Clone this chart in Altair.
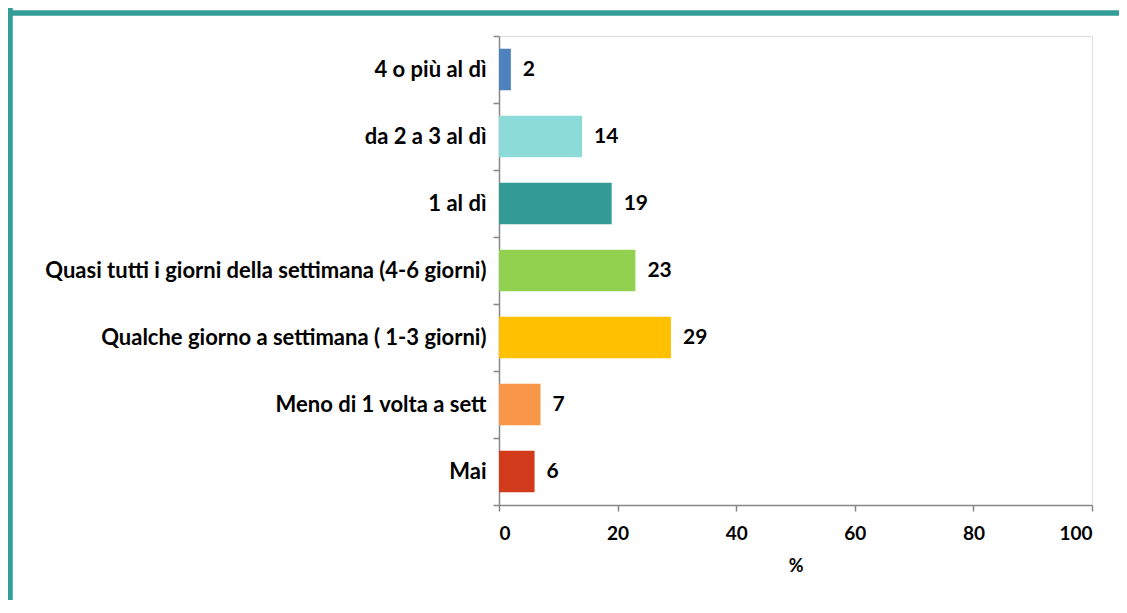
import altair as alt
import pandas as pd

categories = [
    "4 o più al dì",
    "da 2 a 3 al dì",
    "1 al dì",
    "Quasi tutti i giorni della settimana (4-6 giorni)",
    "Qualche giorno a settimana ( 1-3 giorni)",
    "Meno di 1 volta a sett",
    "Mai",
]
values = [2, 14, 19, 23, 29, 7, 6]
colors = ["#4f81bd", "#8ddbd8", "#339a96", "#92d050", "#ffc000", "#f79646", "#d13b1c"]
x_ticks = [0, 20, 40, 60, 80, 100]

df = pd.DataFrame({"cat": categories, "val": values})

FONT = "Lato"
GRAY = "#878787"
BORDER = "#339e99"

W, H = 593, 469
PAD = {"left": 491, "top": 28, "right": 27, "bottom": 95}

y_enc = alt.Y(
    "cat:N",
    sort=categories,
    scale=alt.Scale(paddingInner=0, paddingOuter=0),
    axis=alt.Axis(
        title=None,
        labelFont=FONT,
        labelFontSize=22,
        labelFontWeight="bold",
        labelColor="#000000",
        labelPadding=7,
        labelLimit=0,
        tickSize=6,
        tickColor=GRAY,
        tickWidth=1.5,
        domainColor=GRAY,
        domainWidth=1.5,
        tickBand="extent",
    ),
)

x_enc = alt.X(
    "val:Q",
    scale=alt.Scale(domain=[0, 100], nice=False),
    axis=alt.Axis(
        values=x_ticks,
        title="%",
        titleFont=FONT,
        titleFontSize=18,
        titleFontWeight="bold",
        titleColor="#000000",
        titlePadding=14,
        labelFont=FONT,
        labelFontSize=19,
        labelFontWeight="bold",
        labelColor="#000000",
        labelPadding=13,
        tickSize=6,
        tickColor=GRAY,
        tickWidth=1.5,
        domainColor=GRAY,
        domainWidth=1.5,
        grid=False,
    ),
)

bars = alt.Chart(df).mark_bar(height={"band": 0.62}).encode(
    y=y_enc,
    x=x_enc,
    color=alt.Color("cat:N", sort=categories,
                    scale=alt.Scale(domain=categories, range=colors), legend=None),
)

labels = alt.Chart(df).mark_text(
    align="left", baseline="middle", dx=12,
    font=FONT, fontSize=21, fontWeight="bold", color="#000000",
).encode(
    y=alt.Y("cat:N", sort=categories),
    x=alt.X("val:Q"),
    text=alt.Text("val:Q"),
)

one = alt.Data(values=[{"k": 1}])
left_border = alt.Chart(one).mark_rule(color=BORDER, strokeWidth=5.5).encode(
    x=alt.value(-489), y=alt.value(-PAD["top"]), y2=alt.value(H + PAD["bottom"])
)
top_border = alt.Chart(one).mark_rule(color=BORDER, strokeWidth=5.5).encode(
    x=alt.value(-PAD["left"]), x2=alt.value(W + PAD["right"]), y=alt.value(-23)
)

chart = alt.layer(bars, labels, left_border, top_border).properties(
    width=W, height=H, padding=PAD,
    autosize=alt.AutoSizeParams(type="none"),
).configure_view(stroke=None).configure(background="#ffffff")

chart.save("out.html", embed_options={"renderer": "svg", "actions": False})
